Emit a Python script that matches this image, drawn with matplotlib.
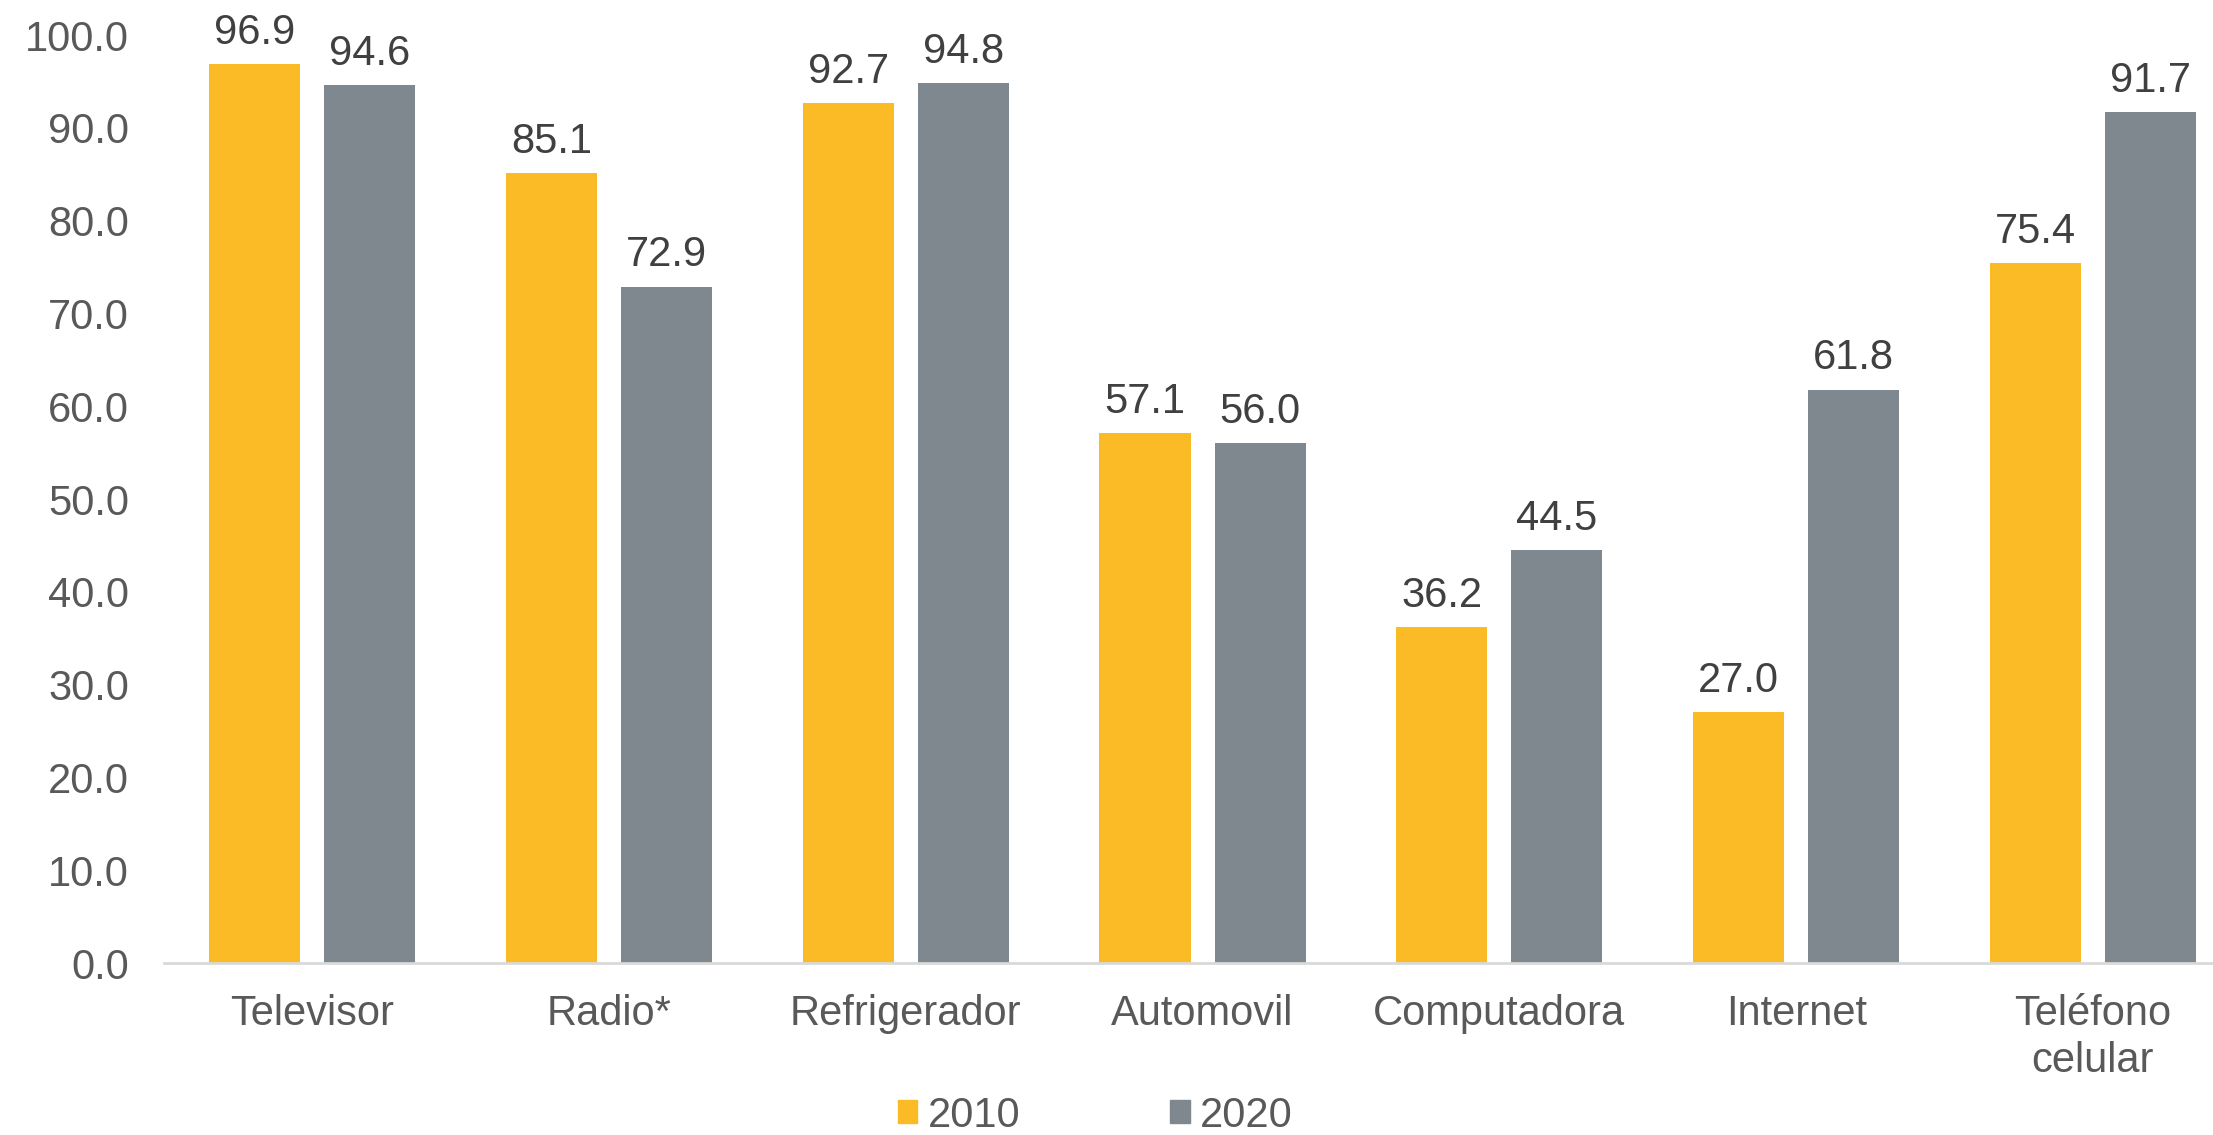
import numpy as np
import matplotlib.pyplot as plt
from matplotlib.patches import Patch

categories = ['Televisor', 'Radio*', 'Refrigerador', 'Automovil',
              'Computadora', 'Internet', 'Teléfono\ncelular']
v2010 = [96.9, 85.1, 92.7, 57.1, 36.2, 27.0, 75.4]
v2020 = [94.6, 72.9, 94.8, 56.0, 44.5, 61.8, 91.7]
yticks = [0, 10, 20, 30, 40, 50, 60, 70, 80, 90, 100]

c2010 = '#FBBB27'
c2020 = '#7F888E'

plt.rcParams['font.family'] = ['Liberation Sans', 'DejaVu Sans']

fig = plt.figure(figsize=(22.13, 11.35), dpi=100)
# the axis runs a bit past the right edge, as in the original
ax = fig.add_axes([0.074, 0.1515, 0.9388, 0.8176])

x = np.arange(len(categories))
w = 0.307
off = 0.194
b1 = ax.bar(x - off, v2010, w, color=c2010)
b2 = ax.bar(x + off, v2020, w, color=c2020)

for bars, vals in ((b1, v2010), (b2, v2020)):
    for b, v in zip(bars, vals):
        ax.annotate(f'{v:.1f}', (b.get_x() + b.get_width() / 2, v),
                    xytext=(0, 8), textcoords='offset points',
                    ha='center', va='bottom', fontsize=30,
                    color='#404040', annotation_clip=False)

ax.set_xlim(-0.5, len(categories) - 0.5)
ax.set_ylim(0, 100)
ax.set_yticks(yticks)
ax.set_yticklabels([f'{t:.1f}' for t in yticks])
ax.set_xticks(x)
ax.set_xticklabels(categories, linespacing=1.25)
ax.tick_params(axis='both', length=0, labelsize=30, colors='#595959')
ax.tick_params(axis='x', pad=22)
ax.tick_params(axis='y', pad=25)

for s in ('top', 'right', 'left'):
    ax.spines[s].set_visible(False)
ax.spines['bottom'].set_color('#D9D9D9')
ax.spines['bottom'].set_linewidth(2)

handles = [Patch(color=c2010, label='2010'), Patch(color=c2020, label='2020')]
fig.legend(handles=handles, loc='center', bbox_to_anchor=(0.495, 0.017),
           ncol=2, frameon=False, fontsize=30, handlelength=0.47,
           handleheight=0.47, handletextpad=0.25, columnspacing=3.6,
           labelcolor='#595959')

fig.savefig('out.png', dpi=100)
